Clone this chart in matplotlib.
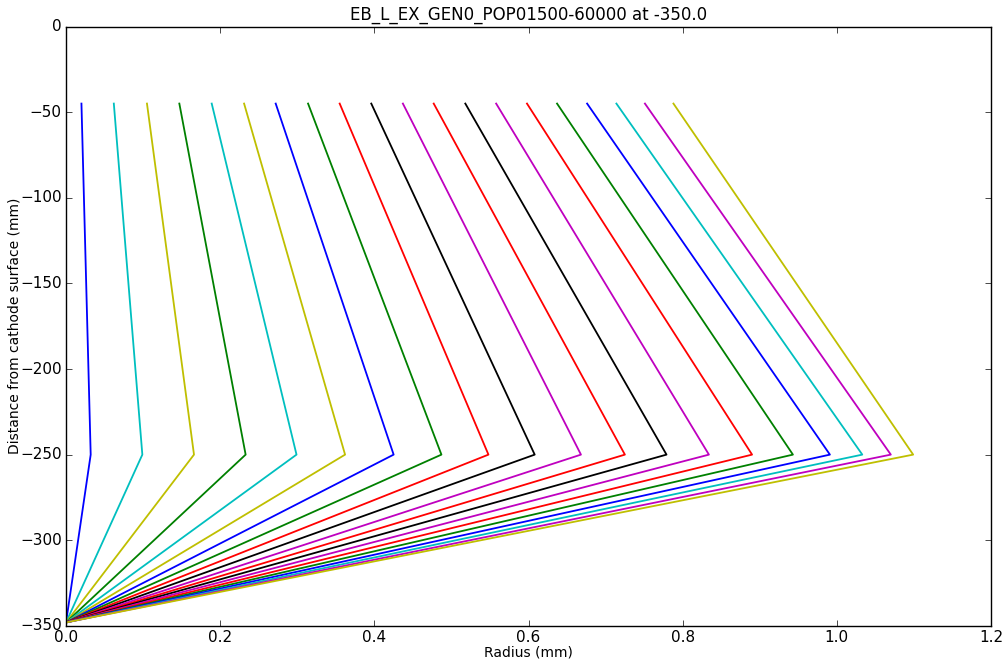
import numpy as np
import matplotlib
matplotlib.use("Agg")
import matplotlib.pyplot as plt

# radius (mm) at the three depths for every trajectory
depths = [-45.0, -250.0, -348.0]
r_top = [0.020, 0.062, 0.105, 0.147, 0.189, 0.231, 0.272, 0.314, 0.355, 0.396,
         0.437, 0.477, 0.518, 0.558, 0.598, 0.637, 0.676, 0.714, 0.751, 0.788]
r_mid = [0.032, 0.099, 0.166, 0.233, 0.299, 0.362, 0.425, 0.487, 0.548, 0.608,
         0.668, 0.725, 0.779, 0.834, 0.890, 0.943, 0.991, 1.033, 1.070, 1.099]
r_bot = [0.0] * 20
colors = ['b', 'c', 'y', 'g', 'c', 'y', 'b', 'g', 'r', 'k',
          'm', 'r', 'k', 'm', 'r', 'g', 'b', 'c', 'm', 'y']

plt.style.use('classic')
fig = plt.figure(figsize=(10.05, 6.63), dpi=100, facecolor='white')
ax = fig.add_axes([0.0657, 0.056, 0.9204, 0.904])

for a, b, c, col in zip(r_top, r_mid, r_bot, colors):
    ax.plot([a, b, c], depths, color=col, lw=1.3)

ax.set_xlim(0, 1.2)
ax.set_ylim(-350, 0)
ax.set_xticks(np.arange(0, 1.21, 0.2))
ax.set_yticks(np.arange(-350, 1, 50))
ax.set_xlabel('Radius (mm)', fontsize=10, labelpad=0)
ax.set_ylabel('Distance from cathode surface (mm)', fontsize=10, labelpad=-1)
ax.set_title('EB_L_EX_GEN0_POP01500-60000 at -350.0', fontsize=12)
ax.tick_params(labelsize=11, pad=3)

fig.savefig('out.png', dpi=100, facecolor='white')
